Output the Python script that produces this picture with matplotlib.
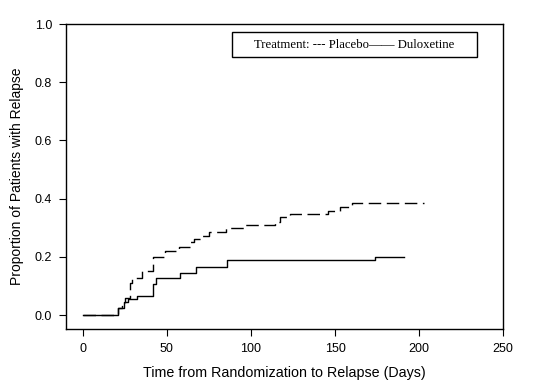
import numpy as np
import matplotlib.pyplot as plt
from matplotlib.patches import Rectangle

# Kaplan-Meier style cumulative relapse proportions (step after each day)
placebo_days = [0, 21, 23, 25, 28, 29.5, 35, 41.5, 49, 57, 64, 66, 70, 75, 85, 96,
                114, 117, 123, 146, 153, 160, 203]
placebo_prop = [0, 0.023, 0.042, 0.058, 0.109, 0.126, 0.152, 0.200, 0.220, 0.233,
                0.250, 0.262, 0.273, 0.286, 0.298, 0.311, 0.321, 0.338, 0.347,
                0.358, 0.372, 0.384, 0.384]

dulox_days = [0, 21, 24.5, 27, 32, 41.5, 43.5, 58, 67, 86, 174, 191]
dulox_prop = [0, 0.023, 0.045, 0.055, 0.065, 0.108, 0.126, 0.143, 0.166, 0.188,
              0.198, 0.198]

x_ticks = [0, 50, 100, 150, 200, 250]
y_ticks = [0.0, 0.2, 0.4, 0.6, 0.8, 1.0]

plt.rcParams['font.family'] = ['Liberation Sans', 'DejaVu Sans']

fig = plt.figure(figsize=(5.37, 3.83), dpi=100)
ax = fig.add_axes([0.123, 0.141, 0.814, 0.796])

ax.step(placebo_days, placebo_prop, where='post', color='black', lw=1.0,
        linestyle=(0, (9, 4)))
ax.step(dulox_days, dulox_prop, where='post', color='black', lw=1.0)

ax.set_xlim(-10, 250)
ax.set_ylim(-0.048, 1.0)
ax.set_xticks(x_ticks)
ax.set_yticks(y_ticks)
ax.set_yticklabels([f"{v:.1f}" for v in y_ticks])
ax.tick_params(direction='out', length=5, width=0.8, labelsize=9, pad=5,
               top=False, right=False)
for s in ax.spines.values():
    s.set_linewidth(1.0)

ax.set_xlabel("Time from Randomization to Relapse (Days)", fontsize=10.3, labelpad=8)
ax.set_ylabel("Proportion of Patients with Relapse", fontsize=10, labelpad=8)

# legend box drawn by hand
ax.add_patch(Rectangle((0.380, 0.892), 0.560, 0.082, transform=ax.transAxes,
                       fill=False, edgecolor='black', lw=1.0))
ax.text(0.66, 0.933, "Treatment: --- Placebo\u2014\u2014 Duloxetine",
        transform=ax.transAxes, ha='center', va='center', fontsize=9.2,
        family=['Liberation Serif', 'DejaVu Serif'])

fig.savefig("out.png", dpi=100)
